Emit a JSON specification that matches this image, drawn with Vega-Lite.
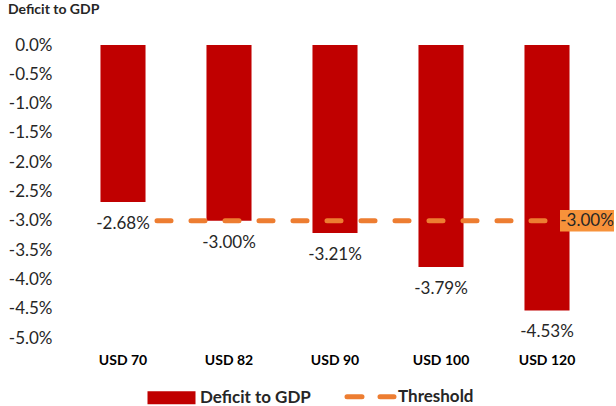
{
  "$schema": "https://vega.github.io/schema/vega-lite/v6.json",
  "width": 530,
  "height": 293,
  "autosize": {"type": "none"},
  "padding": {"left": 70, "top": 45, "right": 16, "bottom": 68},
  "background": "white",
  "config": {
    "view": {"stroke": null},
    "font": "Lato",
    "locale": {"number": {"decimal": ".", "thousands": ",", "grouping": [3], "currency": ["$", ""], "minus": "-"}},
    "axisY": {
      "title": null,
      "domain": false,
      "ticks": false,
      "grid": false,
      "labelOverlap": false,
      "labelFontSize": 17,
      "labelColor": "#262626",
      "labelPadding": 18
    }
  },
  "title": {
    "text": "Deficit to GDP",
    "anchor": "start",
    "frame": "group",
    "dx": -62,
    "offset": 8,
    "fontSize": 14,
    "fontWeight": "bold",
    "color": "#262626",
    "baseline": "alphabetic"
  },
  "data": {
    "values": [
      {"scenario": "USD 70", "deficit": -0.0268, "threshold": -0.03},
      {"scenario": "USD 82", "deficit": -0.03, "threshold": -0.03},
      {"scenario": "USD 90", "deficit": -0.0321, "threshold": -0.03},
      {"scenario": "USD 100", "deficit": -0.0379, "threshold": -0.03},
      {"scenario": "USD 120", "deficit": -0.0453, "threshold": -0.03}
    ]
  },
  "encoding": {
    "x": {
      "field": "scenario",
      "type": "nominal",
      "sort": null,
      "scale": {"paddingInner": 0.575, "paddingOuter": 0.2875},
      "axis": {
        "title": null,
        "domain": false,
        "ticks": false,
        "labelFontSize": 14,
        "labelFontWeight": "bold",
        "labelColor": "#000000",
        "labelPadding": 15,
        "labelAngle": 0
      }
    }
  },
  "layer": [
    {
      "mark": {"type": "bar", "color": "#c00000"},
      "encoding": {
        "y": {
          "field": "deficit",
          "type": "quantitative",
          "scale": {"domain": [-0.05, 0], "nice": false},
          "axis": {"values": [0, -0.005, -0.01, -0.015, -0.02, -0.025, -0.03, -0.035, -0.04, -0.045, -0.05], "format": ".1%", "labelOverlap": false}
        },
        "color": {
          "datum": "Deficit to GDP",
          "type": "nominal",
          "scale": {"domain": ["Deficit to GDP", "Threshold"], "range": ["#c00000", "#ed7d31"]},
          "legend": {
            "title": null,
            "orient": "none",
            "legendX": 93,
            "legendY": 343,
            "direction": "horizontal",
            "symbolSize": 2500,
            "symbolType": "M-0.96,-0.26H0.96V0.26H-0.96Z",
            "labelFontSize": 17,
            "labelFontWeight": "bold",
            "labelColor": "#262626",
            "columnPadding": 26,
            "labelOffset": 20,
            "encode": {
              "symbols": {
                "update": {
                  "shape": {"signal": "datum.value === 'Threshold' ? 'M-0.9,0H-0.3M0.42,0H0.98' : 'M-0.96,-0.26H0.96V0.26H-0.96Z'"},
                  "fill": {"signal": "datum.value === 'Threshold' ? 'transparent' : '#c00000'"},
                  "stroke": {"signal": "datum.value === 'Threshold' ? '#ed7d31' : '#c00000'"},
                  "strokeWidth": {"signal": "datum.value === 'Threshold' ? 5 : 0"},
                  "strokeCap": {"value": "round"},
                  "opacity": {"value": 1}
                }
              }
            }
          }
        }
      }
    },
    {
      "mark": {"type": "line", "strokeWidth": 5, "strokeDash": [14, 20], "strokeCap": "round"},
      "encoding": {
        "y": {
          "field": "threshold",
          "type": "quantitative",
          "axis": {"values": [0, -0.005, -0.01, -0.015, -0.02, -0.025, -0.03, -0.035, -0.04, -0.045, -0.05], "format": ".1%", "labelOverlap": false}
        },
        "color": {"datum": "Threshold", "type": "nominal"}
      }
    },
    {
      "mark": {"type": "point", "shape": "M-1,-0.36H1V0.36H-1Z", "size": 3136, "filled": true, "opacity": 1, "color": "white", "yOffset": 22},
      "encoding": {
        "y": {
          "field": "deficit",
          "type": "quantitative",
          "axis": {"values": [0, -0.005, -0.01, -0.015, -0.02, -0.025, -0.03, -0.035, -0.04, -0.045, -0.05], "format": ".1%", "labelOverlap": false}
        }
      }
    },
    {
      "mark": {"type": "text", "baseline": "middle", "dy": 22, "fontSize": 17, "color": "#262626"},
      "encoding": {
        "y": {
          "field": "deficit",
          "type": "quantitative",
          "axis": {"values": [0, -0.005, -0.01, -0.015, -0.02, -0.025, -0.03, -0.035, -0.04, -0.045, -0.05], "format": ".1%", "labelOverlap": false}
        },
        "text": {"field": "deficit", "type": "quantitative", "format": ".2%"}
      }
    },
    {
      "transform": [{"filter": "datum.scenario === 'USD 120'"}],
      "mark": {"type": "point", "shape": "M-1,-0.4H1V0.4H-1Z", "size": 2916, "filled": true, "opacity": 1, "color": "#f7923a", "xOffset": 40},
      "encoding": {
        "y": {
          "field": "threshold",
          "type": "quantitative",
          "axis": {"values": [0, -0.005, -0.01, -0.015, -0.02, -0.025, -0.03, -0.035, -0.04, -0.045, -0.05], "format": ".1%", "labelOverlap": false}
        }
      }
    },
    {
      "transform": [{"filter": "datum.scenario === 'USD 120'"}],
      "mark": {"type": "text", "xOffset": 40, "fontSize": 17, "color": "#262626", "baseline": "middle"},
      "encoding": {
        "y": {
          "field": "threshold",
          "type": "quantitative",
          "axis": {"values": [0, -0.005, -0.01, -0.015, -0.02, -0.025, -0.03, -0.035, -0.04, -0.045, -0.05], "format": ".1%", "labelOverlap": false}
        },
        "text": {"field": "threshold", "type": "quantitative", "format": ".2%"}
      }
    }
  ]
}
